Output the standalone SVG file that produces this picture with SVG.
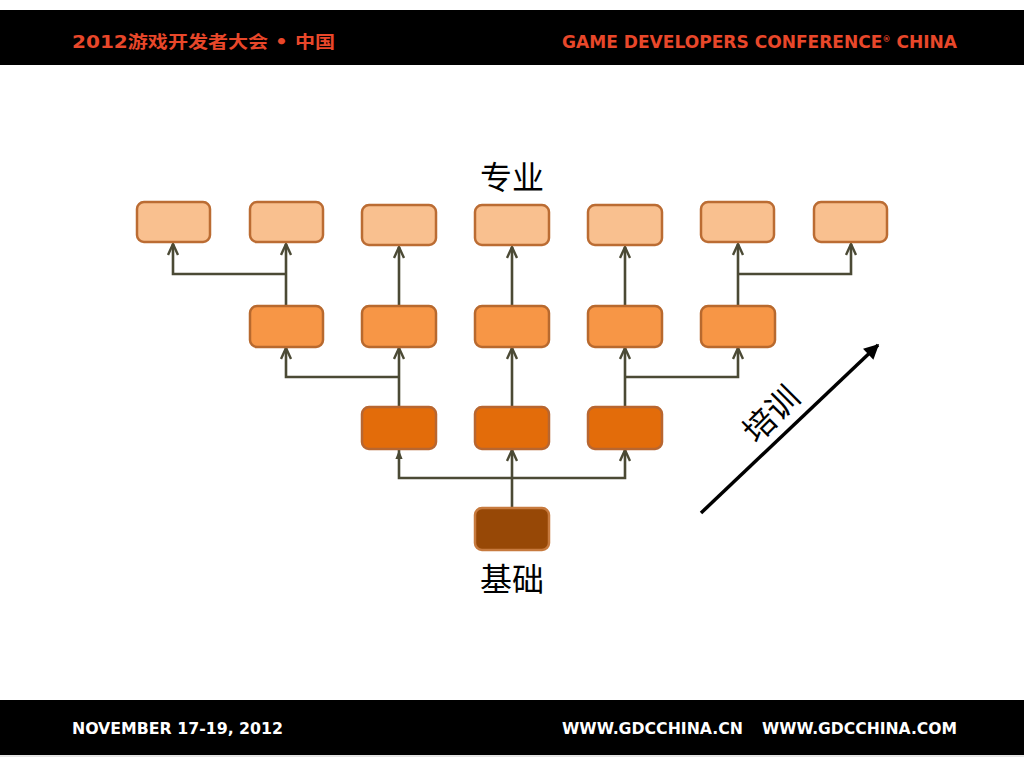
<svg xmlns="http://www.w3.org/2000/svg" width="1024" height="768" viewBox="0 0 1024 768">
<defs>
<style>
.n{stroke-width:2.5}
.l1{fill:#F9C08F;stroke:#BB6C33}
.l2{fill:#F79646;stroke:#B8692E}
.l3{fill:#E36C0A;stroke:#B86630}
.l4{fill:#974806;stroke:#C77A3E}
.c{fill:none;stroke:#4B4A35;stroke-width:2.6}
.cj{font-family:"Noto Sans CJK SC","Noto Sans CJK JP",sans-serif;font-size:32px;fill:#000}
.hd{font-family:"DejaVu Sans","Liberation Sans","Noto Sans CJK SC",sans-serif;font-weight:bold;font-size:17px;fill:#E8472A}
.ft{font-family:"DejaVu Sans Condensed","DejaVu Sans","Liberation Sans",sans-serif;font-weight:bold;font-size:16px;fill:#fff}
</style>
<marker id="ah" viewBox="0 0 14 12" refX="12.5" refY="6" markerWidth="14" markerHeight="12" markerUnits="userSpaceOnUse" orient="auto">
<path d="M1.5 1 L12.5 6 L1.5 11" fill="none" stroke="#4B4A35" stroke-width="2.4"/>
</marker>
<marker id="af" viewBox="0 0 10 8" refX="10" refY="4" markerWidth="9" markerHeight="8" markerUnits="userSpaceOnUse" orient="auto">
<path d="M0 0 L10 4 L0 8 Z" fill="#4B4A35"/>
</marker>
<marker id="ab" viewBox="0 0 10 10" refX="9" refY="5" markerWidth="17" markerHeight="15" markerUnits="userSpaceOnUse" orient="auto">
<path d="M0 0 L10 5 L0 10 Z" fill="#000"/>
</marker>
</defs>
<rect width="1024" height="768" fill="#fff"/>
<g id="header">
<rect x="0" y="10" width="1024" height="55" fill="#000"/>
<text class="hd" x="72" y="48" textLength="263" lengthAdjust="spacingAndGlyphs">2012游戏开发者大会 • 中国</text>
<text class="hd" x="562" y="48" textLength="395" lengthAdjust="spacingAndGlyphs">GAME DEVELOPERS CONFERENCE<tspan font-size="8" dy="-6">®</tspan><tspan dy="6"> CHINA</tspan></text>
</g>
<g id="footer">
<rect x="0" y="700" width="1024" height="55" fill="#000"/>
<line x1="0" y1="756" x2="1024" y2="756" stroke="#ccc" stroke-width="1"/>
<text class="ft" x="72" y="734" textLength="211" lengthAdjust="spacingAndGlyphs">NOVEMBER 17-19, 2012</text>
<text class="ft" x="562" y="734" textLength="181" lengthAdjust="spacingAndGlyphs">WWW.GDCCHINA.CN</text>
<text class="ft" x="762" y="734" textLength="195" lengthAdjust="spacingAndGlyphs">WWW.GDCCHINA.COM</text>
</g>
<g id="connectors">
<path class="c" d="M286 306 V244" marker-end="url(#ah)"/>
<path class="c" d="M286 274 H173 V244" marker-end="url(#ah)"/>
<path class="c" d="M399 306 V247" marker-end="url(#ah)"/>
<path class="c" d="M512 306 V247" marker-end="url(#ah)"/>
<path class="c" d="M625 306 V247" marker-end="url(#ah)"/>
<path class="c" d="M738 306 V244" marker-end="url(#ah)"/>
<path class="c" d="M738 274 H851 V244" marker-end="url(#ah)"/>
<path class="c" d="M399 407 V348" marker-end="url(#ah)"/>
<path class="c" d="M399 377 H286 V348" marker-end="url(#ah)"/>
<path class="c" d="M512 407 V348" marker-end="url(#ah)"/>
<path class="c" d="M625 407 V348" marker-end="url(#ah)"/>
<path class="c" d="M625 377 H738 V348" marker-end="url(#ah)"/>
<path class="c" d="M512 508 V450" marker-end="url(#ah)"/>
<path class="c" d="M512 478 H399 V450" marker-end="url(#af)"/>
<path class="c" d="M512 478 H625 V450" marker-end="url(#ah)"/>
<path d="M701 513 L878 345" stroke="#000" stroke-width="3.5" fill="none" marker-end="url(#ab)"/>
</g>
<g id="n1a"><rect class="n l1" x="137" y="202" width="73" height="40" rx="7"/></g>
<g id="n1b"><rect class="n l1" x="250" y="202" width="73" height="40" rx="7"/></g>
<g id="n1c"><rect class="n l1" x="362" y="205" width="74" height="40" rx="7"/></g>
<g id="n1d"><rect class="n l1" x="475" y="205" width="74" height="40" rx="7"/></g>
<g id="n1e"><rect class="n l1" x="588" y="205" width="74" height="40" rx="7"/></g>
<g id="n1f"><rect class="n l1" x="701" y="202" width="73" height="40" rx="7"/></g>
<g id="n1g"><rect class="n l1" x="814" y="202" width="73" height="40" rx="7"/></g>
<g id="n2a"><rect class="n l2" x="250" y="306" width="73" height="41" rx="7"/></g>
<g id="n2b"><rect class="n l2" x="362" y="306" width="74" height="41" rx="7"/></g>
<g id="n2c"><rect class="n l2" x="475" y="306" width="74" height="41" rx="7"/></g>
<g id="n2d"><rect class="n l2" x="588" y="306" width="74" height="41" rx="7"/></g>
<g id="n2e"><rect class="n l2" x="701" y="306" width="74" height="41" rx="7"/></g>
<g id="n3a"><rect class="n l3" x="362" y="407" width="74" height="42" rx="7"/></g>
<g id="n3b"><rect class="n l3" x="475" y="407" width="74" height="42" rx="7"/></g>
<g id="n3c"><rect class="n l3" x="588" y="407" width="74" height="42" rx="7"/></g>
<g id="n4"><rect class="n l4" x="475" y="508" width="74" height="42" rx="7"/></g>
<g id="labels">
<text class="cj" x="512" y="189" text-anchor="middle">专业</text>
<text class="cj" x="512" y="591" text-anchor="middle">基础</text>
<text class="cj" x="770" y="426" text-anchor="middle" font-size="37" transform="rotate(-45 770 413)">培训</text>
</g>
</svg>
